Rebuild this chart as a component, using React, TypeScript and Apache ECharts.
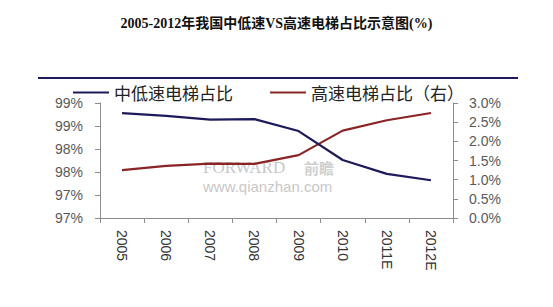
import React, { useEffect, useRef } from "react";
import * as echarts from "echarts";

const categories = ["2005", "2006", "2007", "2008", "2009", "2010", "2011E", "2012E"];
const lowSpeedShare = [99.28, 99.22, 99.14, 99.15, 98.89, 98.26, 97.96, 97.82];
const highSpeedShare = [1.25, 1.36, 1.42, 1.41, 1.64, 2.28, 2.55, 2.74];
const leftTickLabels = ["97%", "97%", "98%", "98%", "99%", "99%"];
const rightTickLabels = ["0.0%", "0.5%", "1.0%", "1.5%", "2.0%", "2.5%", "3.0%"];

const TITLE = "2005-2012年我国中低速VS高速电梯占比示意图(%)";
const NAME_LOW = "中低速电梯占比";
const NAME_HIGH = "高速电梯占比（右）";

const NAVY = "#1c1a5a";
const RED = "#8a2424";
const GRAY = "#595959";

export default function App() {
  const ref = useRef<HTMLDivElement>(null);
  useEffect(() => {
    if (!ref.current) return;
    const chart = echarts.init(ref.current, null, { renderer: "svg" });
    const legendText = {
      fontFamily: "Noto Sans CJK SC",
      fontSize: 17,
      color: "#222",
    };
    chart.setOption({
      animation: false,
      backgroundColor: "#ffffff",
      title: {
        text: TITLE,
        left: "center",
        top: 11,
        textStyle: {
          fontFamily: "Liberation Serif, Noto Sans CJK SC",
          fontWeight: "bold",
          fontSize: 14,
          color: "#111",
        },
      },
      legend: [
        {
          data: [NAME_LOW],
          left: 68,
          top: 79,
          itemWidth: 36,
          itemHeight: 2,
          icon: "rect",
          itemGap: 4,
          textStyle: legendText,
        },
        {
          data: [NAME_HIGH],
          left: 265,
          top: 79,
          itemWidth: 36,
          itemHeight: 2,
          icon: "rect",
          textStyle: legendText,
        },
      ],
      graphic: [
        {
          type: "line",
          shape: { x1: 38, y1: 78, x2: 518, y2: 78 },
          style: { stroke: NAVY, lineWidth: 2 },
          z: 10,
        },
        {
          type: "text",
          left: 203,
          top: 159,
          style: {
            text: "FORWARD",
            fontFamily: "Liberation Serif",
            fontSize: 17,
            lineHeight: 17,
            fill: "#c8c8c8",
          },
          z: 0,
        },
        {
          type: "text",
          left: 304,
          top: 160,
          style: {
            text: "前瞻",
            fontFamily: "Noto Sans CJK SC",
            fontSize: 15,
            lineHeight: 15,
            fontWeight: "bold",
            fill: "#cfcfcf",
          },
          z: 0,
        },
        {
          type: "text",
          left: 203,
          top: 179,
          style: {
            text: "www.qianzhan.com",
            fontFamily: "Liberation Sans",
            fontSize: 15,
            lineHeight: 15,
            fill: "#c8c8c8",
          },
          z: 0,
        },
      ],
      grid: { left: 100, right: 100, top: 103, bottom: 89 },
      xAxis: {
        type: "category",
        data: categories,
        boundaryGap: true,
        axisLine: { lineStyle: { color: "#8c8c8c", width: 1 } },
        axisTick: { show: true, length: 5, lineStyle: { color: "#8c8c8c" } },
        axisLabel: {
          rotate: -90,
          margin: 12,
          color: "#333",
          fontFamily: "Liberation Sans Narrow, Liberation Sans",
          fontSize: 14,
        },
      },
      yAxis: [
        {
          type: "value",
          min: 97,
          max: 99.5,
          interval: 0.5,
          splitLine: { show: false },
          axisLine: { show: true, lineStyle: { color: "#8c8c8c" } },
          axisTick: { show: true, length: 5, lineStyle: { color: "#8c8c8c" } },
          axisLabel: {
            color: GRAY,
            fontFamily: "Liberation Sans",
            fontSize: 14,
            margin: 17,
            formatter: (v: number) => leftTickLabels[Math.round((v - 97) / 0.5)] ?? "",
          },
        },
        {
          type: "value",
          min: 0,
          max: 3,
          interval: 0.5,
          position: "right",
          splitLine: { show: false },
          axisLine: { show: true, lineStyle: { color: "#8c8c8c" } },
          axisTick: { show: true, length: 5, lineStyle: { color: "#8c8c8c" } },
          axisLabel: {
            color: GRAY,
            fontFamily: "Liberation Sans",
            fontSize: 14,
            margin: 16,
            formatter: (v: number) => rightTickLabels[Math.round(v / 0.5)] ?? "",
          },
        },
      ],
      series: [
        {
          name: NAME_LOW,
          type: "line",
          yAxisIndex: 0,
          data: lowSpeedShare,
          symbol: "none",
          lineStyle: { color: NAVY, width: 2.2 },
          itemStyle: { color: NAVY },
          z: 3,
        },
        {
          name: NAME_HIGH,
          type: "line",
          yAxisIndex: 1,
          data: highSpeedShare,
          symbol: "none",
          lineStyle: { color: RED, width: 2.2 },
          itemStyle: { color: RED },
          z: 2,
        },
      ],
    });
    return () => chart.dispose();
  }, []);
  return (
    <div
      ref={ref}
      style={{ position: "fixed", left: 0, top: 0, width: 553, height: 307 }}
    />
  );
}
